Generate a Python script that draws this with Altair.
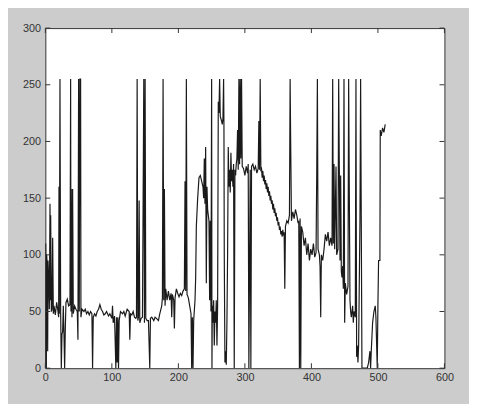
import altair as alt
import pandas as pd

# Signal vertices (sample index, value)
xs = [0, 0.5, 1, 1.5, 2, 3, 3.5, 4, 5, 6, 7, 7.5, 8, 9, 10, 11, 12, 13, 15, 17, 19, 20,
      20.5, 21, 22, 23, 24, 25, 26, 27, 28, 29, 30, 31, 33, 35, 37, 38, 38.5, 39, 40, 41, 42, 44, 46, 48, 49,
      50, 51, 52, 53, 53.5, 55, 58, 60, 62, 64, 66, 68, 70, 71, 72, 74, 76, 78, 80, 82, 84, 86, 88, 90, 92, 95, 97, 100,
      101, 102, 104, 106, 107, 108, 109, 110, 111, 113, 116, 118, 120, 123, 126, 127, 128, 130, 132, 134, 136,
      137, 138, 139, 140, 141, 142, 144, 146, 147, 148, 149, 150, 151, 153, 155, 157, 158, 160, 163, 165, 167, 170, 172, 175,
      176, 177, 178, 179, 180, 181, 183, 185, 187, 189, 190, 191, 193, 194, 195, 197, 199, 201, 203, 205, 207, 209, 210, 211, 212, 213, 215,
      217, 219, 220, 221, 222, 223, 225, 226, 227, 229, 231, 233, 235, 237, 238, 239, 240, 241, 242, 243, 244, 246, 247, 248, 249, 250, 250.5,
      251, 252, 253, 254, 255, 256, 257, 258, 259, 260, 261, 262, 263, 264, 265, 266, 267, 268, 268.5, 269, 270, 271, 272, 273, 274,
      275, 276, 277, 278, 279, 280, 281, 282, 283, 284, 285, 286, 287, 288, 289, 290, 291, 292, 293, 294, 295, 296, 298, 300, 302, 304, 305,
      306, 307, 308, 309, 310, 312, 314, 316, 318, 320, 321, 322, 323, 324, 325,
      326, 327, 328, 329, 330, 331, 332, 333, 334, 335, 336, 337, 338, 339, 340, 341, 342, 343, 344, 345, 346, 347, 348, 349,
      350, 351, 352, 353, 354, 355, 356, 357, 358, 359, 360, 361, 363, 365, 367, 368, 369, 370,
      372, 374, 376, 378, 380, 381, 382, 383, 384, 385, 387, 389, 391, 393, 395, 397, 399, 401, 403, 405, 407, 408, 409, 410,
      412, 413, 414, 415, 417, 419,
      421, 423, 425, 427, 429, 431, 432, 433, 434, 435, 437, 438, 440, 441, 442, 443, 444, 445, 446, 447, 448, 449, 450,
      451, 452, 453, 455, 456, 457, 458, 459, 460, 462, 463, 464, 466, 467, 467.5, 468, 469, 470, 471, 473, 474, 475, 476,
      478, 481, 484, 486, 488, 489, 490, 492, 494, 496, 497, 499, 500, 501, 502, 503, 503.5, 505, 507, 509, 511]
ys = [0, 110, 85, 0, 100, 88, 15, 95, 80, 52, 145, 60, 135, 50, 52, 115, 48, 55, 47, 58, 50, 45,
      160, 48, 255, 50, 0, 30, 32, 55, 30, 0, 35, 58, 61, 55, 56, 255, 50, 158, 45, 158, 48, 55, 52, 50, 25,
      255, 50, 255, 255, 45, 52, 50, 52, 48, 50, 47, 50, 48, 0, 45, 48, 46, 50, 52, 56, 52, 50, 47, 48, 50, 46, 48, 44,
      55, 40, 46, 0, 45, 5, 45, 0, 42, 50, 48, 50, 46, 52, 50, 25, 48, 47, 50, 45, 44,
      45, 255, 42, 45, 148, 40, 44, 45, 148, 255, 40, 255, 44, 42, 42, 0, 44, 45, 42, 45, 44, 42, 48, 55,
      62, 255, 60, 158, 55, 70, 60, 68, 60, 66, 45, 65, 60, 35, 62, 70, 66, 63, 66, 64, 68, 70, 165, 68, 255, 65, 62,
      55, 48, 0, 45, 0, 42, 60, 80, 125, 150, 168, 170, 165, 160, 150, 185, 145, 195, 75, 160, 140, 130, 60, 130, 50, 255, 0,
      55, 40, 60, 20, 50, 40, 60, 20, 55, 235, 225, 255, 222, 220, 218, 215, 220, 255, 215, 100, 5, 15, 3, 40, 100,
      195, 160, 175, 155, 190, 165, 175, 160, 180, 0, 175, 170, 180, 185, 210, 175, 255, 180, 255, 185, 255, 178, 176, 170, 178, 172, 180,
      0, 90, 175, 0, 178, 180, 175, 178, 172, 176, 218, 175, 255, 175, 176,
      168, 174, 165, 170, 162, 166, 158, 163, 155, 160, 152, 156, 148, 152, 145, 148, 140, 145, 137, 141, 134, 137, 130, 133,
      126, 129, 122, 125, 118, 121, 116, 122, 117, 120, 70, 125, 130, 128, 135, 255, 190, 130,
      138, 132, 140, 135, 128, 130, 0, 132, 0, 125, 120, 108, 115, 100, 110, 95, 105, 100, 110, 98, 102, 170, 255, 105,
      100, 90, 45, 100, 95, 105,
      118, 112, 120, 108, 115, 108, 255, 110, 180, 105, 178, 100, 105, 255, 175, 95, 170, 85, 80, 90, 70, 255, 40,
      75, 70, 65, 72, 255, 155, 60, 50, 45, 55, 40, 50, 45, 255, 125, 10, 20, 5, 20, 130, 255, 128, 0,
      0, 0, 0, 5, 15, 0, 15, 40, 50, 55, 45, 0, 55, 95, 95, 95, 210, 205, 212, 208, 215]

x_ticks = [0, 100, 200, 300, 400, 500, 600]
y_ticks = [0, 50, 100, 150, 200, 250, 300]

W, H = 406, 346
TICK = 5
INK = "#333333"
FONT = "Liberation Sans"

df = pd.DataFrame({"i": list(range(len(xs))), "x": xs, "y": ys})
xscale = alt.Scale(domain=[0, 600], nice=False, zero=False)
yscale = alt.Scale(domain=[0, 300], nice=False, zero=False)

xaxis = alt.Axis(values=x_ticks, title=None, grid=False, ticks=False, domain=False,
                 labelPadding=4, labelFont=FONT, labelFontSize=11, labelColor=INK,
                 labelFlush=False)
yaxis = alt.Axis(values=y_ticks, title=None, grid=False, ticks=False, domain=False,
                 labelPadding=5, labelFont=FONT, labelFontSize=11, labelColor=INK,
                 labelFlush=False)

line = alt.Chart(df).mark_line(color="#1a1a1a", strokeWidth=1.2, clip=True).encode(
    x=alt.X("x:Q", scale=xscale, axis=xaxis),
    y=alt.Y("y:Q", scale=yscale, axis=yaxis),
    order="i:Q",
)

tx = pd.DataFrame({"t": x_ticks})
ty = pd.DataFrame({"t": y_ticks})

top_ticks = alt.Chart(tx).mark_rule(color=INK, strokeWidth=1).encode(
    x=alt.X("t:Q", scale=xscale, axis=xaxis), y=alt.value(0), y2=alt.value(TICK))
bottom_ticks = alt.Chart(tx).mark_rule(color=INK, strokeWidth=1).encode(
    x=alt.X("t:Q", scale=xscale, axis=xaxis), y=alt.value(H), y2=alt.value(H - TICK))
left_ticks = alt.Chart(ty).mark_rule(color=INK, strokeWidth=1).encode(
    y=alt.Y("t:Q", scale=yscale, axis=yaxis), x=alt.value(0), x2=alt.value(TICK))
right_ticks = alt.Chart(ty).mark_rule(color=INK, strokeWidth=1).encode(
    y=alt.Y("t:Q", scale=yscale, axis=yaxis), x=alt.value(W), x2=alt.value(W - TICK))

chart = alt.layer(line, top_ticks, bottom_ticks, left_ticks, right_ticks).properties(
    width=W, height=H,
    autosize=alt.AutoSizeParams(type="none"),
    padding={"left": 38, "top": 17, "right": 25, "bottom": 33},
    background="#cccccc",
).configure_view(stroke=INK, strokeWidth=1, fill="white")

chart.save("out.html", embed_options={"renderer": "svg", "actions": False})
